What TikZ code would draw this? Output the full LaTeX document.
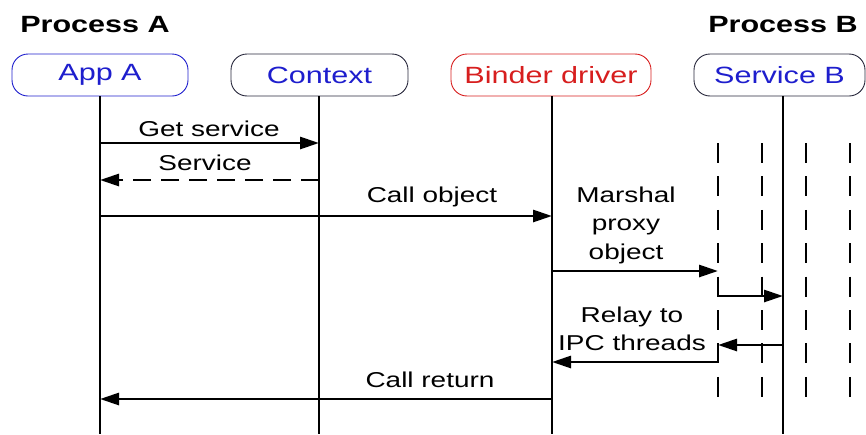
\documentclass[tikz,border=0pt]{standalone}
\usepackage{fontspec}
\setmainfont{Liberation Sans}[FakeStretch=1.3]
\usetikzlibrary{arrows.meta}
\definecolor{appblue}{RGB}{30,30,205}
\definecolor{binderred}{RGB}{215,30,30}
\definecolor{boxgray}{RGB}{40,40,60}
\begin{document}
\begin{tikzpicture}[x=1pt,y=-1pt,
  actor/.style={draw, rounded corners=16pt, line width=0.9pt, minimum height=42pt,
    inner sep=0pt, font=\fontsize{23.5}{27}\selectfont},
  header/.style={font=\fontsize{23.5}{27}\selectfont\bfseries, inner sep=0pt},
  lbl/.style={font=\fontsize{21.5}{28.5}\selectfont, align=center, inner sep=0pt},
  life/.style={line width=2.8pt},
  thread/.style={line width=2.8pt, dash pattern=on 20pt off 13.4pt},
  msg/.style={line width=2.8pt, -{Triangle[length=19pt,width=12pt]}},
  rmsg/.style={line width=2.8pt, dash pattern=on 18pt off 10pt, -{Triangle[length=19pt,width=12pt]}}
]
\useasboundingbox (0,0) rectangle (866,434);

\node[header] (pA) at (95,25) {Process A};
\node[header] (pB) at (783,25) {Process B};

\node[actor, draw=appblue, text=appblue, minimum width=176pt] (app) at (100,75) {App A};
\node[actor, draw=boxgray, text=appblue, minimum width=177pt] (ctx) at (319.5,75) {Context};
\node[actor, draw=binderred, text=binderred, minimum width=200pt] (bnd) at (551,75) {Binder driver};
\node[actor, draw=boxgray, text=appblue, minimum width=171pt] (svc) at (779.5,75) {Service B};

% lifeline ends
\coordinate (appE) at (100,434);
\coordinate (ctxE) at (319,434);
\coordinate (bndE) at (552,434);
\coordinate (svcE) at (783,434);
\draw[life] (app.south -| appE) -- (appE);
\draw[life] (ctx.south -| ctxE) -- (ctxE);
\draw[life] (bnd.south -| bndE) -- (bndE);
\draw[life] (svc.south -| svcE) -- (svcE);

% IPC thread lines
\foreach \x/\n in {718/t1,762/t2,806/t3,850/t4}{
  \coordinate (\n s) at (\x,143);
  \coordinate (\n e) at (\x,398);
  \draw[thread] (\n s) -- (\n e);
}

% messages
\coordinate (m1a) at (100,143); \coordinate (m1b) at (319,143);
\draw[msg] (m1a) -- (m1b);
\node[lbl] (l1) at (209,129) {Get service};

\coordinate (m2a) at (319,180); \coordinate (m2b) at (100,180);
\draw[rmsg] (m2a) -- (m2b);
\node[lbl] (l2) at (205,163) {Service};

\coordinate (m3a) at (100,216); \coordinate (m3b) at (552,216);
\draw[msg] (m3a) -- (m3b);
\node[lbl] (l3) at (432,197) {Call object};

\coordinate (m4a) at (552,271); \coordinate (m4b) at (718,271);
\draw[msg] (m4a) -- (m4b);
\node[lbl] (l4) at (626,225) {Marshal\\proxy\\object};

\coordinate (m5a) at (718,277); \coordinate (m5b) at (783,296);
\draw[msg] (m5a) |- (m5b);

\coordinate (m6a) at (783,345); \coordinate (m6b) at (718,345);
\draw[msg] (m6a) -- (m6b);
\coordinate (m7a) at (718,343); \coordinate (m7b) at (552,362);
\draw[msg] (m7a) |- (m7b);
\node[lbl] (l5) at (632,329) {Relay to\\IPC threads};

\coordinate (m8a) at (552,399); \coordinate (m8b) at (100,399);
\draw[msg] (m8a) -- (m8b);
\node[lbl] (l6) at (430,380) {Call return};
\end{tikzpicture}
\end{document}
